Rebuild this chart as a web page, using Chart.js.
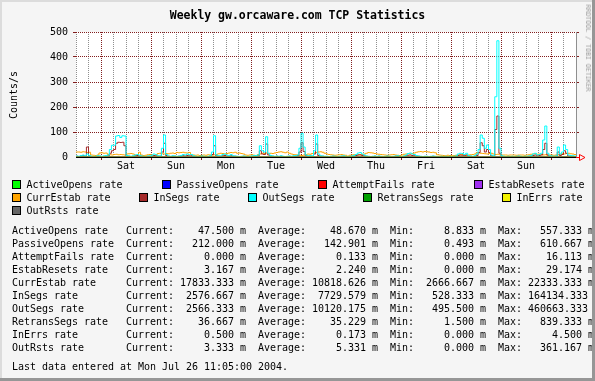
<!DOCTYPE html>
<html><head><meta charset="utf-8">
<script src="https://cdn.jsdelivr.net/npm/chart.js@4.4.1/dist/chart.umd.min.js"></script>
<style>
html,body{margin:0;padding:0;background:#F5F5F5;}
#wrap{position:relative;width:595px;height:381px;background:#F5F5F5;overflow:hidden;font-family:"DejaVu Sans Mono",monospace;color:#000;}
.t{position:absolute;white-space:pre;font-size:10px;line-height:13px;letter-spacing:-0.02px;}
.box{position:absolute;width:7px;height:7px;border:1px solid #000;}
.shade{position:absolute;z-index:5;}
</style></head><body>
<div id="wrap">
<canvas id="c" width="595" height="175" style="position:absolute;left:0;top:0;"></canvas>
<div class="t" style="left:0;top:8px;width:595px;text-align:center;font-weight:bold;font-size:11.5px;line-height:14px;">Weekly gw.orcaware.com TCP Statistics</div>
<div class="t" style="left:12.5px;top:95px;transform:translate(-50%,-50%) rotate(-90deg);">Counts/s</div>
<div class="t" style="left:588px;top:48px;font-size:6.6px;line-height:8px;color:#9a9a9a;transform:translate(-50%,-50%) rotate(90deg);">RRDTOOL / TOBI OETIKER</div>
<div id="legend"></div>
<div id="stats"></div>
<div class="shade" style="left:0;top:0;width:595px;height:2px;background:#DCDCDC;"></div>
<div class="shade" style="left:0;top:0;width:2px;height:381px;background:#DCDCDC;"></div>
<div class="shade" style="left:0;top:378px;width:595px;height:3px;background:#969696;"></div>
<div class="shade" style="left:592px;top:0;width:3px;height:381px;background:#969696;"></div>
</div>
<script>
// ---------- data ----------
const dayLabels = ['Sat','Sun','Mon','Tue','Wed','Thu','Fri','Sat','Sun'];
const yTickLabels = ['0','100','200','300','400','500'];
const seriesNames = ['ActiveOpens','PassiveOpens','AttemptFails','EstabResets','CurrEstab','InSegs','OutSegs','RetransSegs','InErrs','OutRsts'];
const seriesColors = ['#00FF00','#0000FF','#FF0000','#A030F0','#FFA500','#A52A2A','#00FFFF','#00A000','#F2F200','#666666'];

// hourly samples, hour 0 = Fri 12:00
const currEstab = [
 20,20,19,21,20,18,19,8,7,6,8,16,17,15,16,10,9,8,10,11,9,10,9,8,
 12,13,14,12,8,7,19,8,6,7,9,10,8,6,9,14,15,13,12,14,13,15,16,14,
 18,17,18,19,17,16,18,9,8,7,8,6,7,8,7,9,8,7,9,10,13,15,14,12,
 14,16,18,17,19,15,16,14,12,8,7,8,9,7,6,10,12,15,14,16,13,15,14,16,
 18,20,21,19,17,20,15,12,10,9,8,7,6,8,10,12,11,14,16,18,20,21,19,15,
 12,10,9,8,7,8,9,10,8,7,3,7,8,9,10,9,8,10,12,15,18,17,16,14,
 12,11,10,9,8,7,8,9,10,8,7,6,8,11,12,13,12,14,16,19,21,22,20,22,
 21,20,18,19,17,9,8,7,6,5,7,6,5,6,7,8,9,10,8,7,8,9,10,12,
 17,16,15,14,13,12,14,15,12,10,11,9,8,8,8,7,8,8,8,7,8,8,8,7,
 8,9,11,12,13,11,12,10,8,9,7,8,8,7,8,9,11,13,12,14,15,13,12,10
];
const inSegs = [
 3,2,4,5,3,40,4,2,2,2,3,3,2,3,4,5,15,25,30,55,59,58,59,45,
 4,3,2,3,5,6,4,3,2,2,3,3,4,6,5,3,3,20,55,6,3,2,3,3,
 2,3,4,5,4,6,5,5,3,2,2,2,3,2,2,2,3,10,45,5,3,3,5,6,
 4,3,5,3,3,2,2,2,3,2,2,2,3,3,4,5,25,12,10,52,8,4,3,2,
 3,2,3,2,2,2,3,2,3,4,5,20,57,22,5,3,4,3,12,52,6,3,3,2,
 2,2,2,3,2,2,2,3,3,2,2,2,3,4,6,8,9,6,5,3,2,2,2,3,
 2,3,2,2,2,3,2,2,2,3,3,2,2,3,5,7,8,6,5,4,3,2,2,2,
 2,2,2,3,2,2,2,2,2,2,2,2,2,2,3,6,8,7,5,8,4,3,2,3,
 6,18,57,45,20,30,18,5,3,110,164,15,3,2,2,2,2,2,2,2,3,2,2,2,
 2,3,4,6,8,5,6,8,30,55,8,3,3,2,3,20,6,10,25,15,4,3,3,2
];
const outSegs = [
 4,3,6,8,5,12,6,3,2,3,5,4,3,4,6,8,30,47,47,84,86,78,85,84,
 6,4,3,5,8,10,7,4,3,2,4,5,7,12,9,5,4,35,88,10,4,3,5,4,
 3,4,6,10,8,12,9,10,5,3,2,3,4,3,2,3,5,20,85,8,5,4,10,12,
 8,6,10,5,4,3,2,3,4,3,2,3,4,5,6,8,45,25,20,81,15,6,4,3,
 4,3,5,3,2,3,4,3,5,6,8,35,95,40,8,5,6,4,25,88,12,5,4,3,
 3,2,3,4,3,2,3,4,5,3,2,3,4,6,10,16,18,12,8,4,3,2,3,4,
 3,4,3,2,3,4,3,2,3,4,5,3,2,4,8,14,16,12,10,6,4,3,2,3,
 3,2,3,4,3,2,2,3,2,3,2,3,2,3,4,12,15,14,10,15,6,4,3,5,
 12,30,88,75,35,48,30,8,5,241,465,35,5,3,2,3,2,3,2,3,4,3,2,3,
 3,4,6,12,15,8,10,15,68,124,15,5,4,3,4,40,12,20,48,30,8,6,5,4
];
// 12-hourly samples for the small series
const coarseHours = [0,12,24,36,48,60,72,84,96,108,120,132,144,156,168,180,192,204,216,228,240];
const activeOpens  = [0.05,0.04,0.06,0.03,0.05,0.09,0.04,0.05,0.03,0.06,0.05,0.04,0.03,0.05,0.04,0.06,0.05,0.07,0.04,0.05,0.05];
const passiveOpens = [0.15,0.12,0.2,0.1,0.14,0.18,0.13,0.15,0.11,0.16,0.14,0.12,0.1,0.15,0.13,0.17,0.14,0.2,0.12,0.15,0.21];
const attemptFails = [0,0,0.001,0,0,0.002,0,0,0,0.001,0,0,0,0,0,0.001,0,0.002,0,0,0];
const estabResets  = [0.002,0.003,0.002,0.001,0.002,0.003,0.002,0.002,0.001,0.003,0.002,0.002,0.001,0.002,0.002,0.003,0.002,0.004,0.002,0.002,0.003];
const retransSegs  = [0.03,0.04,0.05,0.02,0.03,0.06,0.03,0.04,0.02,0.05,0.03,0.03,0.02,0.03,0.03,0.05,0.04,0.08,0.03,0.03,0.04];
const inErrs       = [0,0,0.001,0,0,0,0,0,0,0.001,0,0,0,0,0,0,0,0.001,0,0,0.0005];
const outRsts      = [0.005,0.004,0.006,0.003,0.005,0.008,0.004,0.005,0.003,0.006,0.005,0.004,0.003,0.005,0.004,0.006,0.005,0.01,0.004,0.005,0.003];

// GPRINT values (milli)
const currentVals = [47.5,212.0,0.0,3.167,17833.333,2576.667,2566.333,36.667,0.5,3.333];
const averageVals = [48.670,142.901,0.133,2.240,10818.626,7729.579,10120.175,35.229,0.173,5.331];
const minVals     = [8.833,0.493,0,0,2666.667,528.333,495.5,1.5,0,0];
const maxVals     = [557.333,610.667,16.113,29.174,22333.333,164134.333,460663.333,839.333,4.5,361.167];
const lastUpdate = 'Last data entered at Mon Jul 26 11:05:00 2004.';

// ---------- chart ----------
const MGRID = '#821E1E', GRID = '#8F8F8F', NONE = 'rgba(0,0,0,0)';
const FONT = {family:'DejaVu Sans Mono', size:10};
function hourly(arr){ const d = arr.map((v,i)=>({x:i,y:v})); d.push({x:arr.length,y:arr[arr.length-1]}); return d; }
function coarse(arr){ return arr.map((v,i)=>({x:coarseHours[i],y:v})); }
const sources = [coarse(activeOpens),coarse(passiveOpens),coarse(attemptFails),coarse(estabResets),
  hourly(currEstab),hourly(inSegs),hourly(outSegs),coarse(retransSegs),coarse(inErrs),coarse(outRsts)];
const datasets = sources.map((d,i)=>({label:seriesNames[i]+' rate', data:d, borderColor:seriesColors[i],
  backgroundColor:seriesColors[i], borderWidth:1, pointRadius:0, stepped:true, fill:false, order:10-i}));

const xGrid = []; for (let h=0; h<=240; h+=6) xGrid.push(h);
const yGrid = []; for (let v=0; v<=500; v+=50) yGrid.push(v);

const frame = {
  id:'frame',
  beforeDraw(chart){ const {ctx, chartArea:a} = chart; ctx.save(); ctx.fillStyle='#FFFFFF';
    ctx.fillRect(a.left, a.top, a.right-a.left, a.bottom-a.top); ctx.restore(); },
  afterDatasetsDraw(chart){ const {ctx, chartArea:a} = chart; const y = a.bottom+0.5;
    ctx.save(); ctx.lineWidth=1; ctx.strokeStyle='#000'; ctx.beginPath(); ctx.moveTo(a.left,y); ctx.lineTo(a.right,y); ctx.stroke();
    ctx.strokeStyle='#FF0000'; ctx.beginPath(); ctx.moveTo(a.right,y); ctx.lineTo(a.right+3,y); ctx.stroke();
    ctx.beginPath(); ctx.moveTo(a.right+3.5,y-3); ctx.lineTo(a.right+3.5,y+3); ctx.lineTo(a.right+9,y); ctx.closePath(); ctx.stroke();
    ctx.restore(); }
};

new Chart(document.getElementById('c'), {
  type:'line',
  data:{datasets},
  plugins:[frame],
  options:{
    responsive:false, animation:false, devicePixelRatio:1,
    layout:{padding:{top:32,left:0,right:0,bottom:0}},
    plugins:{legend:{display:false}, tooltip:{enabled:false}, title:{display:false}},
    scales:{
      x:{type:'linear', min:0, max:240,
        afterBuildTicks:s=>{ s.ticks = xGrid.map(v=>({value:v})); },
        afterFit:s=>{ s.height = 18; },
        ticks:{autoSkip:false, maxRotation:0, padding:0, color:'#000', font:FONT,
          callback:v=> (v%24===0 && v>0 && v<240) ? dayLabels[v/24-1] : ''},
        grid:{lineWidth:1, tickLength:3,
          color:c=>{ const v=c.tick?c.tick.value:0; if (v===240) return NONE; return ((v-12)%24===0)?MGRID:GRID; },
          tickColor:c=>{ const v=c.tick?c.tick.value:0; return ((v-12)%24===0)?MGRID:NONE; }},
        border:{display:true, color:'#000', width:1, dash:[1,1]}
      },
      y:{min:0, max:500,
        afterBuildTicks:s=>{ s.ticks = yGrid.map(v=>({value:v})); },
        afterFit:s=>{ s.width = 76; },
        ticks:{padding:5, color:'#000', font:FONT, callback:v=> v%100===0 ? yTickLabels[v/100] : ''},
        grid:{lineWidth:1, tickLength:3,
          color:c=>{ const v=c.tick?c.tick.value:0; if (v===0) return NONE; return v%100===0?MGRID:GRID; },
          tickColor:c=>{ const v=c.tick?c.tick.value:0; return (v%100===0 && v>0)?MGRID:NONE; }},
        border:{display:false, dash:[1,1]}
      },
      y2:{position:'right', min:0, max:500,
        afterBuildTicks:s=>{ s.ticks = yGrid.filter(v=>v%100===0).map(v=>({value:v})); },
        afterFit:s=>{ s.width = 19; },
        ticks:{display:false},
        grid:{drawOnChartArea:false, tickLength:3, tickColor:c=>{ const v=c.tick?c.tick.value:0; return v>0?MGRID:NONE; }},
        border:{display:true, color:'#8F8F8F', width:1}
      }
    }
  }
});

// ---------- legend & GPRINT text ----------
const legendPos = [[12,180],[162,180],[318,180],[474,180],[12,193],[139,193],[248,193],[363,193],[502,193],[12,206]];
const legend = document.getElementById('legend');
seriesNames.forEach((n,i)=>{
  const [bx,by] = legendPos[i];
  const b = document.createElement('div'); b.className='box';
  b.style.left=bx+'px'; b.style.top=by+'px'; b.style.background=seriesColors[i]; legend.appendChild(b);
  const t = document.createElement('div'); t.className='t';
  t.style.left=(bx+14.5)+'px'; t.style.top=(by-2)+'px'; t.textContent=n+' rate'; legend.appendChild(t);
});
const f = v => v.toFixed(3).padStart(9);
const stats = document.getElementById('stats');
seriesNames.forEach((n,i)=>{
  const t = document.createElement('div'); t.className='t';
  t.style.left='12px'; t.style.top=(224.2+i*12.95)+'px';
  t.textContent = (n+' rate').padEnd(19)+'Current: '+f(currentVals[i])+' m  Average: '+f(averageVals[i])+
    ' m  Min: '+f(minVals[i])+' m  Max: '+f(maxVals[i])+' m';
  stats.appendChild(t);
});
const lu = document.createElement('div'); lu.className='t'; lu.style.left='12px'; lu.style.top='360.2px';
lu.textContent = lastUpdate; stats.appendChild(lu);
</script>
</body></html>
